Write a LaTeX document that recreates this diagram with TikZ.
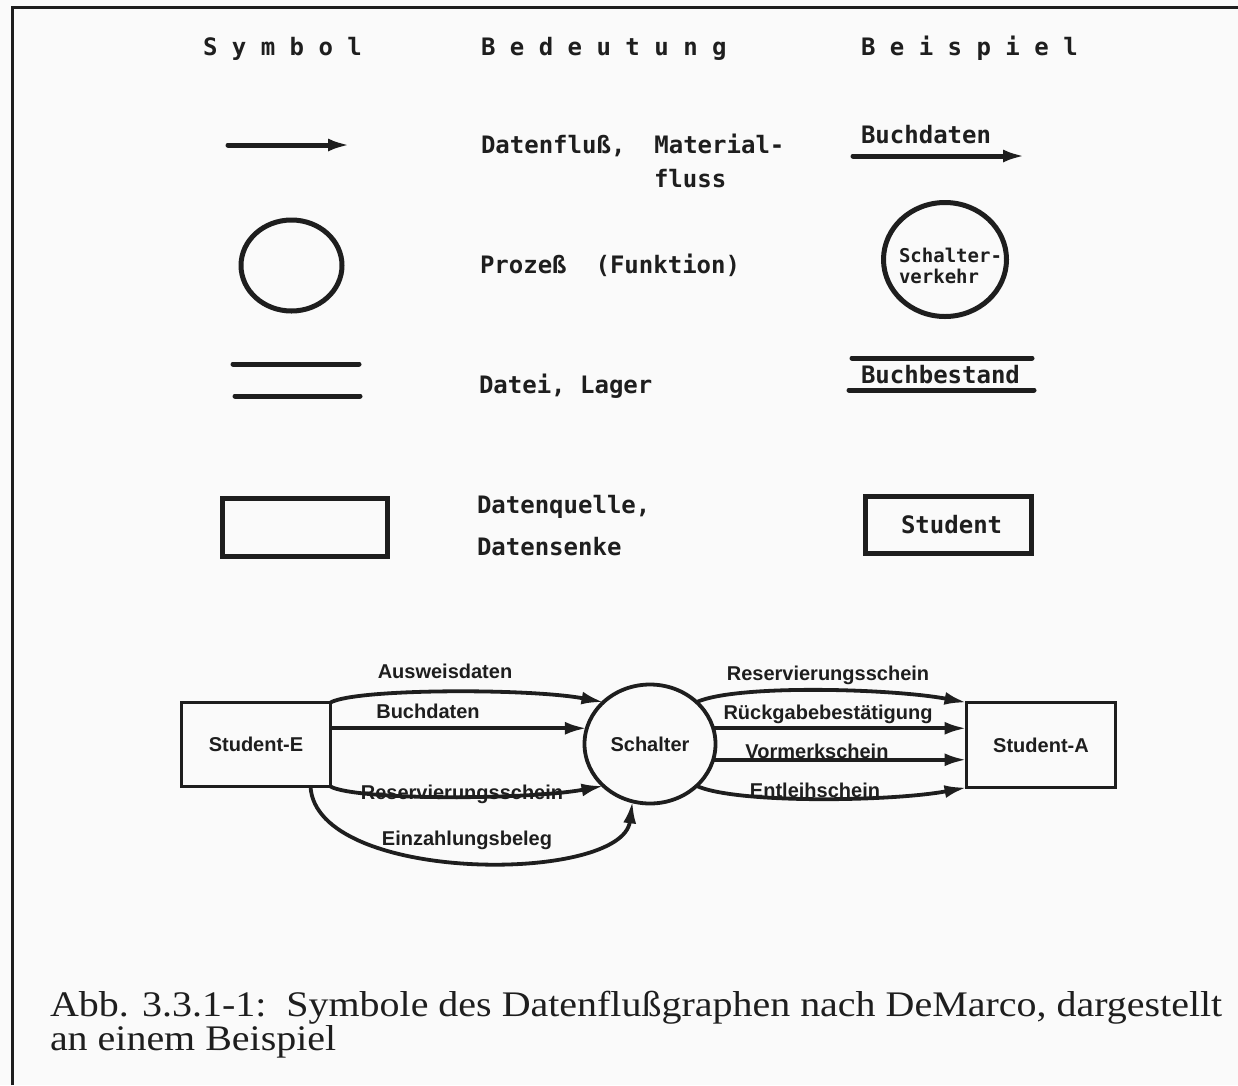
\documentclass[tikz,border=0pt]{standalone}
\usepackage{fontspec}
\usetikzlibrary{arrows.meta,shapes.geometric}
\newfontfamily\typew{DejaVu Sans Mono}
\newfontfamily\flowf{Liberation Sans}
\newfontfamily\capf[FakeStretch=1.11]{Liberation Serif}
\definecolor{paper}{RGB}{250,250,250}
\definecolor{ink}{RGB}{30,30,30}
\begin{document}
\begin{tikzpicture}[x=1pt,y=-1pt,
  every node/.style={inner sep=0pt, outer sep=0pt, text=ink},
  tw/.style={font=\typew\bfseries\fontsize{24}{28}\selectfont, anchor=base west},
  twsmall/.style={font=\typew\bfseries\fontsize{19}{22}\selectfont, anchor=base west},
  fl/.style={font=\flowf\bfseries\fontsize{20}{24}\selectfont},
  fllabel/.style={fl, anchor=base},
  capt/.style={font=\capf\fontsize{36}{40}\selectfont, anchor=base west},
  legend/.style={draw=ink, line width=5pt},
  flowline/.style={draw=ink, line width=3.8pt},
  tip/.style={-{Latex[length=22pt,width=13pt]}},
]
% page and frame
\fill[paper] (0,0) rectangle (1238,1085);
\useasboundingbox (0,0) rectangle (1238,1085);
\draw[ink, line width=3pt] (12,1085) -- (12,7) -- (1238,7);

% column headings
\node[tw] (hSym) at (203,55) {S y m b o l};
\node[tw] (hBed) at (481,55) {B e d e u t u n g};
\node[tw] (hBei) at (861,55) {B e i s p i e l};

% row 1: data flow
\coordinate (symA) at (228,145);
\coordinate (symB) at (350,145);
\draw[legend, tip, line cap=round] (symA) -- (symB);
\node[tw] (mFlow) at (481,153) {Datenfluß,~ Material-};
\node[tw] (mFlow2) at (654,187) {fluss};
\coordinate (exA) at (853,156);
\coordinate (exB) at (1025,156);
\draw[legend, tip, line cap=round] (exA) -- (exB);
\node[tw] (exFlow) at (861,143) {Buchdaten};

% row 2: process
\node[ellipse, legend, minimum width=101, minimum height=91] (symP) at (291.5,265.5) {};
\node[tw] (mProc) at (480,273) {Prozeß~ (Funktion)};
\node[ellipse, legend, minimum width=123, minimum height=114] (exP) at (945,259.5) {};
\node[twsmall] (exP1) at (899,262) {Schalter-};
\node[twsmall] (exP2) at (899,283) {verkehr};

% row 3: file / store
\coordinate (symS1a) at (233,364); \coordinate (symS1b) at (359,364);
\coordinate (symS2a) at (235,396); \coordinate (symS2b) at (360,396);
\draw[legend, line cap=round] (symS1a) -- (symS1b);
\draw[legend, line cap=round] (symS2a) -- (symS2b);
\node[tw] (mStore) at (479,393) {Datei, Lager};
\coordinate (exS1a) at (852,358); \coordinate (exS1b) at (1032,358);
\coordinate (exS2a) at (849,390); \coordinate (exS2b) at (1034,390);
\draw[legend, line cap=round] (exS1a) -- (exS1b);
\draw[legend, line cap=round] (exS2a) -- (exS2b);
\node[tw] (exStore) at (861,383) {Buchbestand};

% row 4: source / sink
\node[rectangle, legend, minimum width=165, minimum height=58] (symT) at (304.5,527) {};
\node[tw] (mTerm1) at (477,513) {Datenquelle,};
\node[tw] (mTerm2) at (477,555) {Datensenke};
\node[rectangle, legend, minimum width=166, minimum height=57] (exT) at (948,524.5) {};
\node[tw] (exTt) at (901,533) {Student};

% example data flow graph
\node[rectangle, flowline, minimum width=149, minimum height=84, fl] (sE) at (256,744.5) {Student-E};
\node[ellipse, flowline, minimum width=131, minimum height=119, fl] (sch) at (650,744) {Schalter};
\node[rectangle, flowline, minimum width=149, minimum height=85, fl] (sA) at (1041,745) {Student-A};

% flows into the process
\draw[flowline, tip] (sE.north east) .. controls +(25,-14) and +(-75,-14) .. (sch.138);
\draw[flowline, tip] (sE.east |- sch.166) -- (sch.166);
\draw[flowline, tip] (sE.south east) .. controls +(25,14) and +(-75,14) .. (sch.222);
\draw[flowline, tip] ([xshift=-20pt]sE.south east) .. controls (316,884) and (622,884) .. (sch.253);
\node[fllabel] (lAus) at (445,678) {Ausweisdaten};
\node[fllabel] (lBuch) at (428,718) {Buchdaten};
\node[fllabel] (lResE) at (462,799) {Reservierungsschein};
\node[fllabel] (lEinz) at (467,845) {Einzahlungsbeleg};

% flows out of the process
\draw[flowline, tip] (sch.42) .. controls +(40,-18) and +(-75,-14) .. (sA.north west);
\draw[flowline, tip] (sch.14) -- (sA.west |- sch.14);
\draw[flowline, tip] (sch.-14) -- (sA.west |- sch.-14);
\draw[flowline, tip] (sch.-42) .. controls +(40,18) and +(-75,14) .. (sA.south west);
\node[fllabel] (lResA) at (828,680) {Reservierungsschein};
\node[fllabel] (lRueck) at (828,719) {Rückgabebestätigung};
\node[fllabel] (lVorm) at (817,758) {Vormerkschein};
\node[fllabel] (lEntl) at (815,797) {Entleihschein};

% caption
\node[capt] (cap1) at (50,1016) {Abb. 3.3.1-1:\ \ Symbole des Datenflußgraphen nach DeMarco, dargestellt};
\node[capt] (cap2) at (50,1050) {an einem Beispiel};
\end{tikzpicture}
\end{document}
